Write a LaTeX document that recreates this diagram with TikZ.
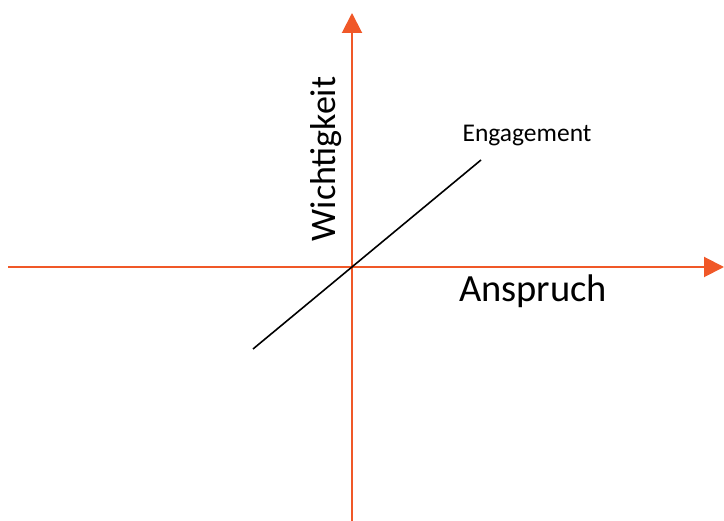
\documentclass[tikz,border=0pt]{standalone}
\usepackage{fontspec}
\setmainfont{Carlito}
\usetikzlibrary{arrows.meta,positioning}
\definecolor{axisorange}{RGB}{240,88,40}
\tikzset
{
    axisline/.style  = {draw=axisorange, line width=2pt, -{Triangle[length=20pt,width=20pt]}},
    trendline/.style = {draw=black, line width=1.6pt},
    biglabel/.style  = {font=\fontsize{36}{40}\selectfont, anchor=base, inner sep=0pt},
    smalllabel/.style= {font=\fontsize{25.5}{30}\selectfont, anchor=base, inner sep=0pt}
}

\begin{document}
\begin{tikzpicture}[x=1pt, y=-1pt]
\useasboundingbox (0,0) rectangle (724,521);
% axes
\coordinate (xl) at (8,267);
\coordinate (xr) at (724,267);
\coordinate (yb) at (352,521);
\coordinate (yt) at (352,13);
\coordinate (el) at (253,349);
\coordinate (eh) at (481,160);

\node (wi)  [biglabel, rotate=90] at (335,159) {Wichtigkeit};
\node (an)  [biglabel, font=\fontsize{38.5}{42}\selectfont] at (533,302) {Anspruch};
\node (en)  [smalllabel]          at (527,142) {Engagement};

\path
(xl) edge[axisline]  (xr)
(yb) edge[axisline]  (yt)
(el) edge[trendline] (eh);

\end{tikzpicture}
\end{document}
